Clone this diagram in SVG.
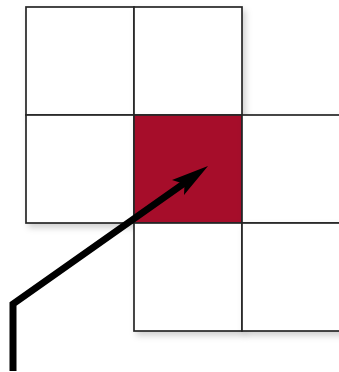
<svg xmlns="http://www.w3.org/2000/svg" width="339" height="372" viewBox="0 0 339 372">
  <style>
    .cell { fill: #ffffff; stroke: #262626; stroke-width: 1.7; filter: url(#shadow); }
    .hot { fill: #a6082c; }
    .conn { fill: none; stroke: #000000; stroke-width: 7; stroke-linejoin: miter; }
    .head { fill: #000000; }
  </style>
  <defs>
    <filter id="shadow" x="-20%" y="-20%" width="140%" height="140%">
      <feDropShadow dx="3" dy="4" stdDeviation="3" flood-color="#000000" flood-opacity="0.18"/>
    </filter>
  </defs>
  <rect width="339" height="372" fill="#ffffff"/>
  <g id="cell-0-0"><rect class="cell" x="26" y="7" width="108" height="108"/></g>
  <g id="cell-0-1"><rect class="cell" x="134" y="7" width="108" height="108"/></g>
  <g id="cell-1-0"><rect class="cell" x="26" y="115" width="108" height="108"/></g>
  <g id="cell-1-1"><rect class="cell hot" x="134" y="115" width="108" height="108"/></g>
  <g id="cell-1-2"><rect class="cell" x="242" y="115" width="108" height="108"/></g>
  <g id="cell-2-1"><rect class="cell" x="134" y="223" width="108" height="108"/></g>
  <g id="cell-2-2"><rect class="cell" x="242" y="223" width="108" height="108"/></g>
  <g id="connectors">
    <polyline class="conn" points="13,371 13,304 186,182"/>
    <path class="head" d="M208,166 L184,195 L184.5,184 L172,180 Z"/>
  </g>
</svg>
